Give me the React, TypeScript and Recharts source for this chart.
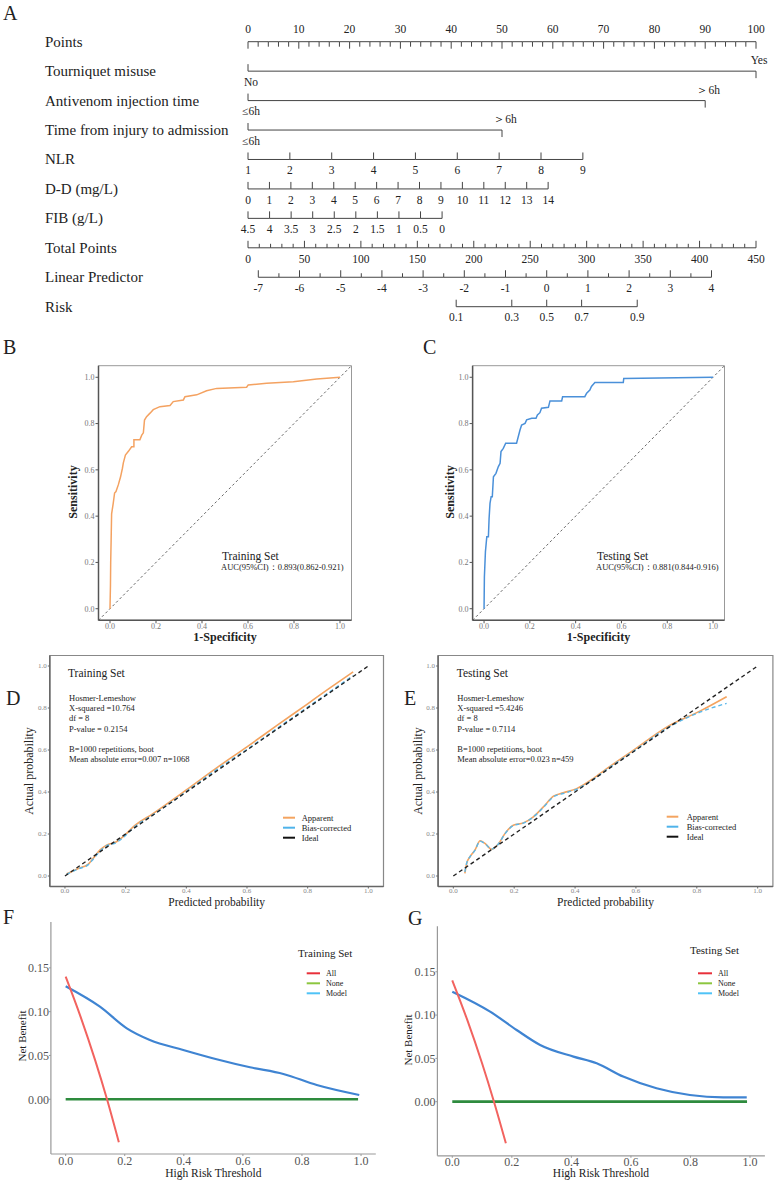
import React from 'react';
import { ComposedChart, Line, XAxis, YAxis, ReferenceLine, ReferenceArea } from 'recharts';

const SERIF = '"Liberation Serif", "Times New Roman", Times, serif';

// ---------- A: nomogram ----------
const rowNames = [
  'Points',
  'Tourniquet misuse',
  'Antivenom injection time',
  'Time from injury to admission',
  'NLR',
  'D-D (mg/L)',
  'FIB (g/L)',
  'Total Points',
  'Linear Predictor',
  'Risk',
];
const pointsLabels = [0, 10, 20, 30, 40, 50, 60, 70, 80, 90, 100];
const tourniquetLevels = ['No', 'Yes'];
const tourniquetPoints = [0, 100];
const antivenomLevels = ['≤6h', '＞6h'];
const antivenomPoints = [0, 90];
const admissionLevels = ['≤6h', '＞6h'];
const admissionPoints = [0, 50];
const nlrValues = [1, 2, 3, 4, 5, 6, 7, 8, 9];
const nlrPointsPerUnit = 8.24;
const ddValues = [0, 1, 2, 3, 4, 5, 6, 7, 8, 9, 10, 11, 12, 13, 14];
const ddPointsPerUnit = 4.22;
const fibValues = [4.5, 4, 3.5, 3, 2.5, 2, 1.5, 1, 0.5, 0];
const fibPointsPerUnit = 8.49;
const totalLabels = [0, 50, 100, 150, 200, 250, 300, 350, 400, 450];
const totalMax = 450;
const lpValues = [-7, -6, -5, -4, -3, -2, -1, 0, 1, 2, 3, 4];
const lpZeroPoints = 58.8;
const lpPointsPerUnit = 8.11;
const riskValues = [0.1, 0.3, 0.5, 0.7, 0.9];

// ---------- B / C: ROC ----------
const rocTrainFpr = [0, 0.002, 0.003, 0.005, 0.007, 0.014, 0.02, 0.026, 0.036, 0.046, 0.054, 0.058, 0.067, 0.08, 0.094, 0.104, 0.104, 0.13, 0.138, 0.145, 0.15, 0.159, 0.174, 0.188, 0.217, 0.261, 0.275, 0.319, 0.326, 0.377, 0.42, 0.464, 0.594, 0.601, 0.681, 0.797, 0.899, 1];
const rocTrainTpr = [0, 0.1, 0.2, 0.3, 0.41, 0.455, 0.5, 0.506, 0.535, 0.57, 0.607, 0.63, 0.664, 0.68, 0.7, 0.7, 0.73, 0.73, 0.75, 0.76, 0.815, 0.83, 0.845, 0.86, 0.873, 0.878, 0.895, 0.902, 0.916, 0.924, 0.942, 0.952, 0.957, 0.967, 0.974, 0.981, 0.993, 1];
const rocTestFpr = [0, 0.0015, 0.006, 0.012, 0.019, 0.022, 0.026, 0.031, 0.036, 0.041, 0.052, 0.0625, 0.07, 0.074, 0.084, 0.0945, 0.142, 0.157, 0.164, 0.179, 0.186, 0.208, 0.227, 0.233, 0.244, 0.251, 0.281, 0.288, 0.339, 0.343, 0.44, 0.448, 0.462, 0.469, 0.484, 0.608, 0.61, 1];
const rocTestTpr = [0, 0.138, 0.246, 0.311, 0.311, 0.39, 0.455, 0.484, 0.484, 0.57, 0.585, 0.614, 0.628, 0.679, 0.693, 0.715, 0.715, 0.772, 0.794, 0.801, 0.816, 0.823, 0.823, 0.837, 0.847, 0.866, 0.87, 0.898, 0.898, 0.916, 0.916, 0.931, 0.945, 0.96, 0.977, 0.977, 0.995, 1];

// ---------- D / E: calibration ----------
const calTrainPred = [0.005, 0.044, 0.077, 0.093, 0.115, 0.137, 0.17, 0.192, 0.225, 0.29, 0.4, 0.5, 0.6, 0.7, 0.8, 0.87, 0.95];
const calTrainApparent = [0.01, 0.036, 0.057, 0.084, 0.123, 0.147, 0.163, 0.187, 0.234, 0.297, 0.41, 0.515, 0.615, 0.718, 0.82, 0.892, 0.972];
const calTrainBias = [0.008, 0.034, 0.054, 0.08, 0.118, 0.143, 0.16, 0.183, 0.229, 0.291, 0.402, 0.507, 0.603, 0.704, 0.804, 0.874, 0.955];
const calTestPred = [0.038, 0.044, 0.055, 0.071, 0.088, 0.104, 0.126, 0.148, 0.17, 0.197, 0.23, 0.263, 0.296, 0.329, 0.361, 0.405, 0.46, 0.504, 0.591, 0.701, 0.81, 0.898];
const calTestApparent = [0.013, 0.06, 0.092, 0.123, 0.168, 0.155, 0.127, 0.152, 0.203, 0.242, 0.253, 0.282, 0.329, 0.38, 0.396, 0.416, 0.464, 0.511, 0.598, 0.709, 0.785, 0.854];
const calTestBias = [0.02, 0.062, 0.092, 0.122, 0.166, 0.154, 0.128, 0.152, 0.202, 0.24, 0.252, 0.281, 0.327, 0.377, 0.393, 0.413, 0.46, 0.507, 0.593, 0.703, 0.78, 0.822];

// ---------- F / G: decision curves ----------
const dcaAllThreshold = [0, 0.05, 0.1, 0.14, 0.18];
const dcaTrainAll = [0.14, 0.0947, 0.0444, 0, -0.049];
const dcaTestAll = [0.14, 0.0947, 0.0444, 0, -0.048];
const dcaNoneThreshold = [0, 0.99];
const dcaNone = [0, 0];
const dcaTrainThreshold = [0, 0.116, 0.207, 0.285, 0.398, 0.511, 0.624, 0.737, 0.85, 0.994];
const dcaTrainModel = [0.129, 0.1057, 0.081, 0.0677, 0.0563, 0.0457, 0.0365, 0.0289, 0.0163, 0.0049];
const dcaTestThreshold = [0, 0.127, 0.216, 0.295, 0.407, 0.485, 0.574, 0.686, 0.798, 0.91, 0.989];
const dcaTestModel = [0.127, 0.104, 0.0828, 0.0655, 0.052, 0.0443, 0.029, 0.0155, 0.0077, 0.005, 0.005];

const unitTicks = [0, 0.2, 0.4, 0.6, 0.8, 1];
const f1 = (v: number) => v.toFixed(1);
const f2 = (v: number) => v.toFixed(2);

type Box = { l: number; r: number; t: number; b: number };
function marginFor(left: number, top: number, width: number, height: number, box: Box, yW: number, xH: number) {
  return { left: box.l - left - yW, right: left + width - box.r, top: box.t - top, bottom: top + height - box.b - xH };
}
const toXY = (xs: number[], ys: number[]) => xs.map((x, i) => ({ x, y: ys[i] }));

// ---------- nomogram helpers ----------
type NTick = { p: number; r: number; len: number; dir: number; text?: string; off: number; dx?: number };
const BELOW = 10.7;
const ABOVE = -12.4;

function buildNomogram(): NTick[][] {
  const rows: NTick[][] = [];
  const pts: NTick[] = [];
  for (let v = 0; v <= 100; v += 2) {
    const lab = pointsLabels.includes(v);
    pts.push({ p: v, r: 0, len: lab ? 7 : 5, dir: 1, text: lab ? String(v) : undefined, off: ABOVE });
  }
  rows.push(pts);
  const binary = (r: number, levels: string[], p: number[]) =>
    levels.map((lv, i) => ({ p: p[i], r, len: 7, dir: i === 0 ? -1 : 1, text: lv, off: i === 0 ? 10.5 : -10.7, dx: 3 }));
  rows.push(binary(1, tourniquetLevels, tourniquetPoints));
  rows.push(binary(2, antivenomLevels, antivenomPoints));
  rows.push(binary(3, admissionLevels, admissionPoints));
  const numeric = (r: number, vals: number[], f: (v: number) => number) =>
    vals.map((v) => ({ p: f(v), r, len: 7, dir: -1, text: String(v), off: BELOW })).sort((a, b) => a.p - b.p);
  rows.push(numeric(4, nlrValues, (v) => (v - nlrValues[0]) * nlrPointsPerUnit));
  rows.push(numeric(5, ddValues, (v) => v * ddPointsPerUnit));
  rows.push(numeric(6, fibValues, (v) => (fibValues[0] - v) * fibPointsPerUnit));
  const tot: NTick[] = [];
  for (let v = 0; v <= totalMax; v += 10) {
    const lab = totalLabels.includes(v);
    tot.push({ p: (v / totalMax) * 100, r: 7, len: lab ? 7 : 4, dir: -1, text: lab ? String(v) : undefined, off: BELOW });
  }
  rows.push(tot);
  const lp: NTick[] = [];
  for (let v = lpValues[0]; v <= lpValues[lpValues.length - 1]; v += 0.5) {
    const lab = lpValues.includes(v);
    lp.push({ p: lpZeroPoints + v * lpPointsPerUnit, r: 8, len: lab ? 7 : 4, dir: -1, text: lab ? String(v) : undefined, off: BELOW });
  }
  rows.push(lp);
  rows.push(
    riskValues.map((v) => ({ p: lpZeroPoints + Math.log(v / (1 - v)) * lpPointsPerUnit, r: 9, len: 7, dir: -1, text: String(v), off: BELOW }))
  );
  return rows;
}
const nomoRows = buildNomogram();

const renderNomoTick = (props: any) => {
  const { cx, cy, payload, index } = props;
  const t = payload as NTick;
  if (cx == null || cy == null) return <g key={`e-${index}`} />;
  return (
    <g key={`t-${t.r}-${index}`}>
      <line x1={cx} x2={cx} y1={cy} y2={cy + t.dir * t.len} stroke="#444" strokeWidth={1} />
      {t.text !== undefined && (
        <text x={cx + (t.dx || 0)} y={cy + t.off} textAnchor="middle" dominantBaseline="central" fontSize={11.5} fontFamily={SERIF} fill="#222">
          {t.text}
        </text>
      )}
    </g>
  );
};

function Nomogram() {
  return (
    <div style={{ position: 'absolute', left: 0, top: 0 }}>
      <ComposedChart width={775} height={340} margin={{ left: 48, right: 19, top: 41.7, bottom: 33.3 }}>
        <XAxis type="number" dataKey="p" domain={[0, 100]} hide />
        <YAxis
          type="number"
          domain={[0, 9]}
          ticks={[0, 1, 2, 3, 4, 5, 6, 7, 8, 9]}
          reversed
          width={200}
          axisLine={false}
          tickLine={false}
          tick={(props: any) => (
            <text key={`rl-${props.payload.value}`} x={45} y={props.y} dominantBaseline="central" fontSize={15} fontFamily={SERIF} fill="#222">
              {rowNames[props.payload.value]}
            </text>
          )}
        />
        {nomoRows.map((row, i) => (
          <Line
            key={`row-${i}`}
            data={row}
            dataKey="r"
            type="linear"
            stroke="#444"
            strokeWidth={1}
            dot={renderNomoTick}
            activeDot={false}
            isAnimationActive={false}
          />
        ))}
      </ComposedChart>
    </div>
  );
}

// ---------- ROC ----------
function RocPanel({ left, box, xs, ys, color }: { left: number; box: Box; xs: number[]; ys: number[]; color: string }) {
  const top = 355, width = left === 0 ? 390 : 375, height = 290, yW = 40, xH = 20;
  const m = marginFor(left, top, width, height, box, yW, xH);
  const axis = { stroke: '#555', strokeWidth: 1.5 };
  const tick = { fill: '#777', fontSize: 8, fontFamily: SERIF };
  return (
    <div style={{ position: 'absolute', left, top }}>
      <ComposedChart width={width} height={height} margin={m}>
        <XAxis type="number" dataKey="x" domain={[-0.05, 1.05]} ticks={unitTicks} tickFormatter={f1} allowDataOverflow height={xH} tickSize={3} tickMargin={0} axisLine={axis} tickLine={{ stroke: '#555' }} tick={tick} />
        <YAxis type="number" domain={[-0.05, 1.05]} ticks={unitTicks} tickFormatter={f1} allowDataOverflow width={yW} tickSize={3} tickMargin={1} axisLine={axis} tickLine={{ stroke: '#555' }} tick={tick} />
        <ReferenceArea x1={-0.05} x2={1.05} y1={-0.05} y2={1.05} fill="none" stroke="#999" strokeWidth={1} />
        <ReferenceLine segment={[{ x: -0.05, y: -0.05 }, { x: 1.05, y: 1.05 }]} stroke="#666" strokeDasharray="2.5 2.5" />
        <Line data={toXY(xs, ys)} dataKey="y" type="linear" stroke={color} strokeWidth={1.5} dot={false} activeDot={false} isAnimationActive={false} />
      </ComposedChart>
    </div>
  );
}

// ---------- calibration ----------
function CalPanel({ left, box, xs, apparent, bias }: { left: number; box: Box; xs: number[]; apparent: number[]; bias: number[] }) {
  const top = 645, width = left === 0 ? 395 : 375, height = 265, yW = 30, xH = 18;
  const m = marginFor(left, top, width, height, box, yW, xH);
  const axis = { stroke: '#666', strokeWidth: 1.5 };
  const tick = { fill: '#888', fontSize: 7, fontFamily: SERIF };
  return (
    <div style={{ position: 'absolute', left, top }}>
      <ComposedChart width={width} height={height} margin={m}>
        <XAxis type="number" dataKey="x" domain={[-0.05, 1.05]} ticks={unitTicks} tickFormatter={f1} allowDataOverflow height={xH} tickSize={2} tickMargin={0} axisLine={axis} tickLine={{ stroke: '#666' }} tick={tick} />
        <YAxis type="number" domain={[-0.05, 1.05]} ticks={unitTicks} tickFormatter={f1} allowDataOverflow width={yW} tickSize={2} tickMargin={1} axisLine={axis} tickLine={{ stroke: '#666' }} tick={tick} />
        <ReferenceArea x1={-0.05} x2={1.05} y1={-0.05} y2={1.05} fill="none" stroke="#888" strokeWidth={1.2} />
        <Line data={toXY(xs, apparent)} dataKey="y" type="monotone" stroke="#F4A460" strokeWidth={1.6} dot={false} activeDot={false} isAnimationActive={false} />
        <Line data={toXY(xs, bias)} dataKey="y" type="monotone" stroke="#5BB8EA" strokeWidth={1.4} strokeDasharray="4 3" dot={false} activeDot={false} isAnimationActive={false} />
        <ReferenceLine segment={[{ x: 0, y: 0 }, { x: 1, y: 1 }]} stroke="#222" strokeWidth={1.4} strokeDasharray="4 3" />
      </ComposedChart>
    </div>
  );
}

// ---------- decision curves ----------
function DcaPanel({ left, top, width, box, allV, modelX, modelV }: { left: number; top: number; width: number; box: Box; allV: number[]; modelX: number[]; modelV: number[] }) {
  const height = 1181 - top, yW = 35, xH = 20;
  const m = marginFor(left, top, width, height, box, yW, xH);
  const axis = { stroke: '#999', strokeWidth: 1.2 };
  const tick = { fill: '#555', fontSize: 12, fontFamily: SERIF };
  return (
    <div style={{ position: 'absolute', left, top }}>
      <ComposedChart width={width} height={height} margin={m}>
        <XAxis type="number" dataKey="x" domain={[-0.05, 1.05]} ticks={unitTicks} tickFormatter={f1} allowDataOverflow height={xH} tickSize={2} tickMargin={0} axisLine={axis} tickLine={{ stroke: '#999' }} tick={tick} />
        <YAxis type="number" domain={[-0.0625, 0.2025]} ticks={[0, 0.05, 0.1, 0.15]} tickFormatter={f2} allowDataOverflow width={yW} tickSize={2} tickMargin={0} axisLine={axis} tickLine={{ stroke: '#999' }} tick={tick} />
        <Line data={toXY(dcaNoneThreshold, dcaNone)} dataKey="y" type="linear" stroke="#2E8B3E" strokeWidth={2.6} dot={false} activeDot={false} isAnimationActive={false} />
        <Line data={toXY(modelX, modelV)} dataKey="y" type="monotone" stroke="#3F84D2" strokeWidth={2.2} dot={false} activeDot={false} isAnimationActive={false} />
        <Line data={toXY(dcaAllThreshold, allV)} dataKey="y" type="monotone" stroke="#F2635F" strokeWidth={2} dot={false} activeDot={false} isAnimationActive={false} />
      </ComposedChart>
    </div>
  );
}

// ---------- overlay text ----------
const T = ({ x, y, s, children, anchor = 'start', bold = false, rot = false, fill = '#222' }: any) => (
  <text
    x={x}
    y={y}
    fontSize={s}
    fontFamily={SERIF}
    fontWeight={bold ? 'bold' : 'normal'}
    textAnchor={anchor}
    dominantBaseline="central"
    fill={fill}
    transform={rot ? `rotate(-90 ${x} ${y})` : undefined}
  >
    {children}
  </text>
);

const calLegend = [
  { name: 'Apparent', color: '#F4A460' },
  { name: 'Bias-corrected', color: '#4FB3EA' },
  { name: 'Ideal', color: '#111' },
];
const dcaLegend = [
  { name: 'All', color: '#E8303A' },
  { name: 'None', color: '#8CC63F' },
  { name: 'Model', color: '#4FC3F7' },
];
const hlTrain = ['Hosmer-Lemeshow', 'X-squared =10.764', 'df = 8', 'P-value = 0.2154', '', 'B=1000 repetitions, boot', 'Mean absolute error=0.007 n=1068'];
const hlTest = ['Hosmer-Lemeshow', 'X-squared =5.4246', 'df = 8', 'P-value = 0.7114', '', 'B=1000 repetitions, boot', 'Mean absolute error=0.023 n=459'];
const hlY = [698, 708, 718, 729, 739, 749, 759];

function Overlay() {
  return (
    <svg width={775} height={1181} style={{ position: 'absolute', left: 0, top: 0, pointerEvents: 'none' }}>
      {/* panel letters */}
      <T x={3} y={13} s={20}>A</T>
      <T x={3} y={347} s={20}>B</T>
      <T x={423} y={347} s={20}>C</T>
      <T x={6} y={698} s={20}>D</T>
      <T x={404} y={698} s={20}>E</T>
      <T x={3} y={917} s={20}>F</T>
      <T x={408} y={918} s={20}>G</T>

      {/* ROC */}
      <T x={73} y={492} s={12} bold rot anchor="middle">Sensitivity</T>
      <T x={225} y={637} s={12} bold anchor="middle">1-Specificity</T>
      <T x={222} y={556} s={11.5}>Training Set</T>
      <T x={221} y={567} s={8.5}>AUC(95%CI)：0.893(0.862-0.921)</T>
      <T x={450} y={492} s={12} bold rot anchor="middle">Sensitivity</T>
      <T x={598.5} y={637} s={12} bold anchor="middle">1-Specificity</T>
      <T x={597} y={556} s={11.5}>Testing Set</T>
      <T x={596} y={567} s={8.5}>AUC(95%CI)：0.881(0.844-0.916)</T>

      {/* calibration */}
      <T x={68} y={673} s={11.5}>Training Set</T>
      {hlTrain.map((l, i) => (l ? <T key={`hd${i}`} x={69} y={hlY[i]} s={8.5}>{l}</T> : null))}
      <T x={216.7} y={902} s={11.5} anchor="middle">Predicted probability</T>
      <T x={29} y={771} s={12} rot anchor="middle">Actual probability</T>
      {calLegend.map((e, i) => (
        <g key={`cl${i}`}>
          <line x1={283} x2={295} y1={817.7 + i * 10} y2={817.7 + i * 10} stroke={e.color} strokeWidth={2} />
          <T x={301.7} y={817.7 + i * 10} s={8.5}>{e.name}</T>
        </g>
      ))}
      <T x={456.7} y={673} s={11.5}>Testing Set</T>
      {hlTest.map((l, i) => (l ? <T key={`he${i}`} x={457.3} y={hlY[i]} s={8.5}>{l}</T> : null))}
      <T x={605.5} y={902} s={11.5} anchor="middle">Predicted probability</T>
      <T x={418} y={771} s={12} rot anchor="middle">Actual probability</T>
      {calLegend.map((e, i) => (
        <g key={`cle${i}`}>
          <line x1={666.7} x2={678.3} y1={816.7 + i * 10} y2={816.7 + i * 10} stroke={e.color} strokeWidth={2} />
          <T x={686.7} y={816.7 + i * 10} s={8.5}>{e.name}</T>
        </g>
      ))}

      {/* decision curves */}
      <T x={298} y={952.7} s={11}>Training Set</T>
      {dcaLegend.map((e, i) => (
        <g key={`df${i}`}>
          <line x1={306.7} x2={320} y1={973.3 + i * 10} y2={973.3 + i * 10} stroke={e.color} strokeWidth={2} />
          <T x={326} y={973.3 + i * 10} s={8}>{e.name}</T>
        </g>
      ))}
      <T x={21.7} y={1036} s={11} rot anchor="middle">Net Benefit</T>
      <T x={213.3} y={1173} s={11.5} anchor="middle">High Risk Threshold</T>
      <T x={690} y={950} s={11}>Testing Set</T>
      {dcaLegend.map((e, i) => (
        <g key={`dg${i}`}>
          <line x1={698} x2={712} y1={973.3 + i * 10} y2={973.3 + i * 10} stroke={e.color} strokeWidth={2} />
          <T x={718} y={973.3 + i * 10} s={8}>{e.name}</T>
        </g>
      ))}
      <T x={408.3} y={1040} s={11} rot anchor="middle">Net Benefit</T>
      <T x={601} y={1173} s={11.5} anchor="middle">High Risk Threshold</T>
    </svg>
  );
}

export default function App() {
  return (
    <div style={{ position: 'absolute', left: 0, top: 0, width: 775, height: 1181, background: '#fff', overflow: 'hidden' }}>
      <Nomogram />
      <RocPanel left={0} box={{ l: 98.5, r: 351.5, t: 365.7, b: 620.3 }} xs={rocTrainFpr} ys={rocTrainTpr} color="#F4A261" />
      <RocPanel left={400} box={{ l: 472.6, r: 724.5, t: 365.7, b: 620.3 }} xs={rocTestFpr} ys={rocTestTpr} color="#4A90D9" />
      <CalPanel left={0} box={{ l: 49.8, r: 383.5, t: 655.5, b: 886.5 }} xs={calTrainPred} apparent={calTrainApparent} bias={calTrainBias} />
      <CalPanel left={400} box={{ l: 438.1, r: 772.9, t: 655.5, b: 886.5 }} xs={calTestPred} apparent={calTestApparent} bias={calTestBias} />
      <DcaPanel left={0} top={910} width={390} box={{ l: 50.9, r: 375.8, t: 921.9, b: 1154 }} allV={dcaTrainAll} modelX={dcaTrainThreshold} modelV={dcaTrainModel} />
      <DcaPanel left={390} top={910} width={385} box={{ l: 437.4, r: 764.9, t: 926.3, b: 1155.8 }} allV={dcaTestAll} modelX={dcaTestThreshold} modelV={dcaTestModel} />
      <Overlay />
    </div>
  );
}
